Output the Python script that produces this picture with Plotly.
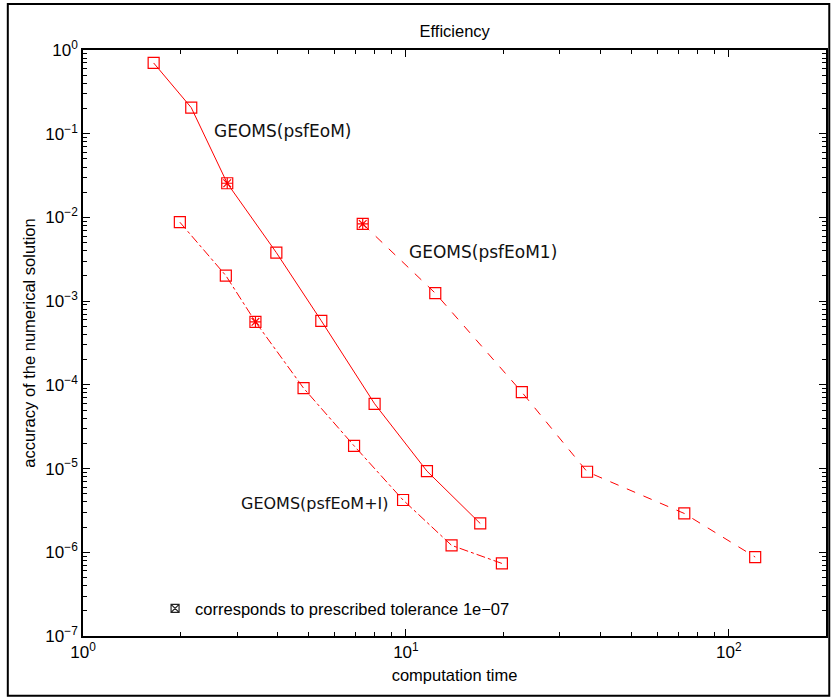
import numpy as np
import plotly.graph_objects as go

# ---- data ----
t_psfEoM = [1.655, 2.164, 2.797, 3.97, 5.47, 8.0, 11.62, 16.99]
e_psfEoM = [0.70, 0.2048, 0.0256, 3.8e-3, 5.82e-4, 5.94e-5, 9.33e-6, 2.21e-6]
tol_psfEoM = [2]

t_psfEoMI = [1.995, 2.769, 3.42, 4.82, 6.91, 9.8, 13.85, 19.83]
e_psfEoMI = [8.77e-3, 2.02e-3, 5.66e-4, 9.14e-5, 1.87e-5, 4.21e-6, 1.21e-6, 7.36e-7]
tol_psfEoMI = [2]

t_psfEoM1 = [7.35, 12.33, 22.86, 36.4, 72.8, 120.7]
e_psfEoM1 = [8.37e-3, 1.245e-3, 8.19e-5, 9.16e-6, 2.91e-6, 8.77e-7]
tol_psfEoM1 = [0]

labels = ["GEOMS(psfEoM)", "GEOMS(psfEoM+I)", "GEOMS(psfEoM1)"]
label_pos = [(10**0.401, 10**-0.967), (10**0.4825, 10**-5.412), (10**1.004, 10**-2.412)]
label_sizes = [17, 16, 17]
dashes = ["solid", "dashdot", "dash"]

x_ticks = [1, 10, 100]
x_ticktext = ["10<sup>0</sup>", "10<sup>1</sup>", "10<sup>2</sup>"]
y_ticks = [1e-7, 1e-6, 1e-5, 1e-4, 1e-3, 1e-2, 1e-1, 1e0]
y_ticktext = ["10<sup>\u22127</sup>", "10<sup>\u22126</sup>", "10<sup>\u22125</sup>", "10<sup>\u22124</sup>",
              "10<sup>\u22123</sup>", "10<sup>\u22122</sup>", "10<sup>\u22121</sup>", "10<sup>0</sup>"]
legend_text = "corresponds to prescribed tolerance 1e\u221207"

RED = "#ff0000"
FONT = "Liberation Sans, Arial, sans-serif"
FS = 16.5

fig = go.Figure()
series = [(t_psfEoM, e_psfEoM, tol_psfEoM), (t_psfEoMI, e_psfEoMI, tol_psfEoMI), (t_psfEoM1, e_psfEoM1, tol_psfEoM1)]
for (t, e, tol), dash in zip(series, dashes):
    fig.add_trace(go.Scatter(
        x=t, y=e, mode="lines+markers",
        line=dict(color=RED, width=1, dash=dash),
        marker=dict(symbol="square-open", size=11, color=RED, line=dict(width=1.2)),
        showlegend=False, hoverinfo="skip"))
    fig.add_trace(go.Scatter(
        x=[t[i] for i in tol], y=[e[i] for i in tol], mode="markers",
        marker=dict(symbol="asterisk-open", size=9, color=RED, line=dict(width=1.2, color=RED)),
        showlegend=False, hoverinfo="skip"))

# legend marker
fig.add_trace(go.Scatter(
    x=[None], y=[None], mode="markers", name=legend_text,
    marker=dict(symbol="square-x-open", size=8, color="#222222", line=dict(width=1.2)),
    showlegend=True))

for txt, (lx, ly), fsz in zip(labels, label_pos, label_sizes):
    fig.add_annotation(x=np.log10(lx), y=np.log10(ly), text=txt, showarrow=False,
                       xanchor="left", yanchor="middle",
                       font=dict(family="DejaVu Sans, sans-serif", size=fsz, color="#111111"))

# figure border
fig.add_shape(type="rect", xref="paper", yref="paper",
              x0=-0.1012, x1=1.0044, y0=-0.1018, y1=1.0785,
              line=dict(color="black", width=2))

x_minor = [k * 10**d for d in range(0, 3) for k in range(2, 10) if k * 10**d <= 200]
y_minor = [k * 10.0**d for d in range(-7, 0) for k in range(2, 10)]

fig.update_layout(
    width=832, height=697,
    margin=dict(l=83, r=4, t=50, b=61),
    paper_bgcolor="white", plot_bgcolor="white",
    font=dict(family=FONT, size=FS, color="black"),
    title=dict(text="Efficiency", x=0.5465, xanchor="center", y=0.955, yanchor="middle",
               font=dict(family=FONT, size=FS, color="black")),
    legend=dict(x=0.097, y=0.0466, xanchor="left", yanchor="middle",
                bgcolor="rgba(0,0,0,0)", font=dict(family=FONT, size=FS, color="black")),
    xaxis=dict(type="log", range=[0, np.log10(200)], tickmode="array",
               tickvals=x_ticks, ticktext=x_ticktext,
               ticks="inside", ticklen=7, tickwidth=1, tickcolor="black",
               showline=True, linecolor="black", linewidth=1.5, mirror="allticks",
               showgrid=False, zeroline=False,
               minor=dict(tickmode="array", tickvals=x_minor, ticks="inside", ticklen=4,
                          tickcolor="black", showgrid=False),
               title=dict(text="computation time", standoff=8,
                          font=dict(family=FONT, size=FS, color="black")),
               tickfont=dict(family=FONT, size=17, color="black")),
    yaxis=dict(type="log", range=[-7, 0], tickmode="array",
               tickvals=y_ticks, ticktext=y_ticktext,
               ticks="inside", ticklen=7, tickwidth=1, tickcolor="black",
               showline=True, linecolor="black", linewidth=1.5, mirror="allticks",
               showgrid=False, zeroline=False,
               minor=dict(tickmode="array", tickvals=y_minor, ticks="inside", ticklen=4,
                          tickcolor="black", showgrid=False),
               title=dict(text="accuracy of the numerical solution", standoff=6,
                          font=dict(family=FONT, size=FS, color="black")),
               tickfont=dict(family=FONT, size=17, color="black")),
)

fig.write_html("out.html", config={"displayModeBar": False},
               post_script="document.body.style.margin='0';document.body.style.padding='0';")
